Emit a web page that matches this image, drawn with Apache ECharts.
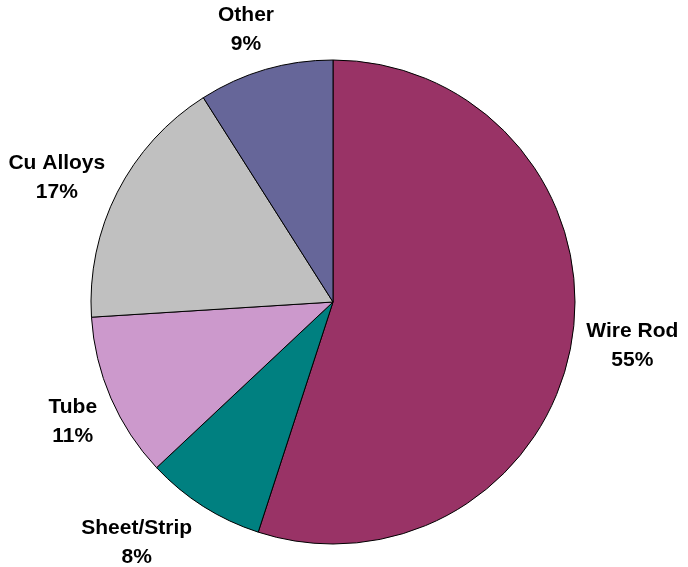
<!DOCTYPE html>
<html><head><meta charset="utf-8">
<script src="https://cdn.jsdelivr.net/npm/echarts@6/dist/echarts.min.js"></script>
<style>html,body{margin:0;padding:0;background:#fff}#c{width:688px;height:567px}</style>
</head><body><div id="c"></div>
<script>
var categories = ['Wire Rod', 'Sheet/Strip', 'Tube', 'Cu Alloys', 'Other'];
var values = [55, 8, 11, 17, 9];
var colors = ['#993366', '#008080', '#CC99CC', '#C0C0C0', '#666699'];

var chart = echarts.init(document.getElementById('c'));

// small label nudges (styling only) so labels sit where the original placed them
var labelNudge = {
  'Wire Rod': [2, -3],
  'Sheet/Strip': [-35, -13],
  'Tube': [16, 0],
  'Cu Alloys': [-8, 12],
  'Other': [-3, 17]
};

chart.setOption({
  animation: false,
  series: [{
    type: 'pie',
    center: [333, 302],
    radius: 242,
    startAngle: 90,
    clockwise: true,
    data: categories.map(function (n, i) {
      return { name: n, value: values[i], itemStyle: { color: colors[i] } };
    }),
    itemStyle: { borderColor: '#000', borderWidth: 1 },
    label: { show: false },
    labelLine: { show: false },
    emphasis: { disabled: true }
  }, {
    // invisible ring used only to place the labels along each slice's mid-angle
    type: 'pie',
    center: [333, 302],
    radius: [0, 596],
    startAngle: 90,
    clockwise: true,
    silent: true,
    data: categories.map(function (n, i) {
      return { name: n, value: values[i], label: { offset: labelNudge[n] } };
    }),
    itemStyle: { color: 'rgba(0,0,0,0)', borderWidth: 0 },
    label: {
      show: true,
      position: 'inside',
      formatter: '{b}\n{d}%',
      fontFamily: 'Liberation Sans, Arial, sans-serif',
      fontWeight: 'bold',
      fontSize: 21,
      lineHeight: 29,
      color: '#000',
      align: 'center',
      verticalAlign: 'middle'
    },
    labelLine: { show: false },
    emphasis: { disabled: true }
  }]
});
</script></body></html>
